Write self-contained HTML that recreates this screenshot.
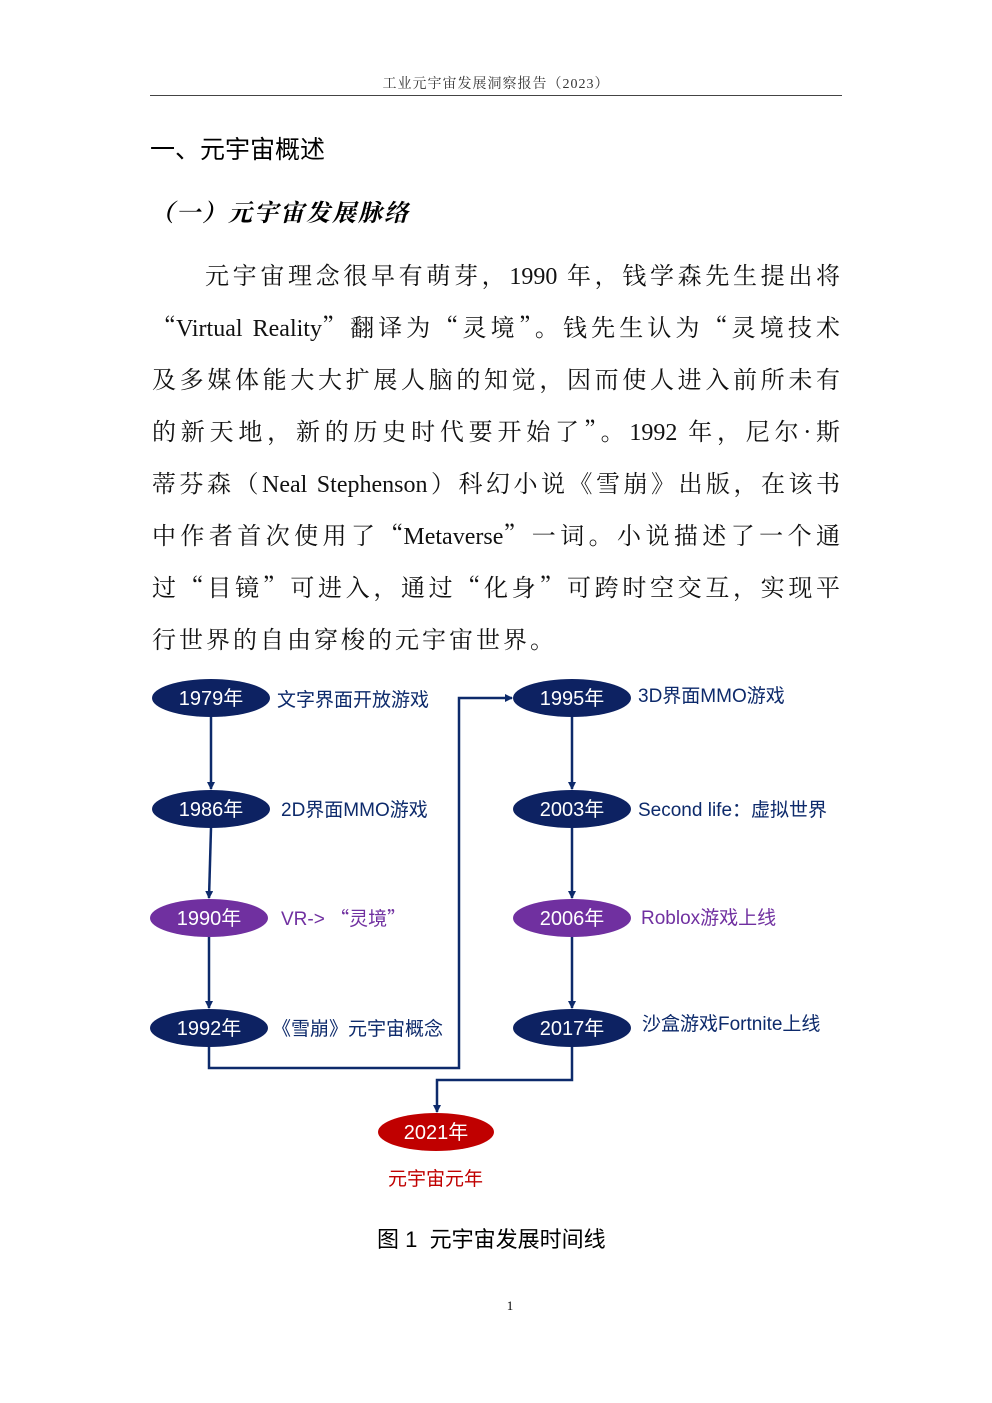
<!DOCTYPE html>
<html><head><meta charset="utf-8"><style>
body{margin:0;width:992px;height:1403px;background:#fff;position:relative;overflow:hidden;font-family:"Liberation Serif","Noto Serif CJK SC",serif;}
.a{position:absolute;white-space:nowrap;}
.l{position:absolute;left:152px;width:688px;font-size:24px;line-height:30px;text-align:justify;text-align-last:justify;color:#111;}
.q{font-family:"Noto Serif CJK SC",serif;line-height:0;}
</style></head><body>
<div class="a" style="left:0;width:992px;top:73px;text-align:center;font-size:14px;color:#333;letter-spacing:1px;">工业元宇宙发展洞察报告（2023）</div>
<div class="a" style="left:150px;top:95px;width:692px;height:1px;background:#444;"></div>
<div class="a" style="left:150px;top:130px;font-size:25px;font-family:'Noto Sans CJK SC',sans-serif;color:#000;">一、元宇宙概述</div>
<div class="a" style="left:150px;top:193px;font-size:24px;font-family:'Noto Serif CJK SC',serif;font-weight:bold;font-style:italic;color:#000;letter-spacing:2px;">（一）元宇宙发展脉络</div>
<div class="l" style="top:262px;left:205px;width:635px;">元宇宙理念很早有萌芽，1990 年，钱学森先生提出将</div>
<div class="l" style="top:314px;"><span class="q">“</span>Virtual Reality<span class="q">”</span>翻译为<span class="q">“</span>灵境<span class="q">”</span>。钱先生认为<span class="q">“</span>灵境技术</div>
<div class="l" style="top:366px;">及多媒体能大大扩展人脑的知觉，因而使人进入前所未有</div>
<div class="l" style="top:418px;">的新天地，新的历史时代要开始了<span class="q">”</span>。1992 年，尼尔<span class="q">·</span>斯</div>
<div class="l" style="top:470px;">蒂芬森（Neal Stephenson）科幻小说《雪崩》出版，在该书</div>
<div class="l" style="top:522px;">中作者首次使用了<span class="q">“</span>Metaverse<span class="q">”</span>一词。小说描述了一个通</div>
<div class="l" style="top:574px;">过<span class="q">“</span>目镜<span class="q">”</span>可进入，通过<span class="q">“</span>化身<span class="q">”</span>可跨时空交互，实现平</div>
<div class="l" style="top:626px;text-align-last:left;letter-spacing:3px;">行世界的自由穿梭的元宇宙世界。</div>
<svg class="a" style="left:0;top:0" width="992" height="1403" font-family="Liberation Sans,Noto Sans CJK SC,sans-serif">
<defs><marker id="m" markerWidth="8" markerHeight="8" refX="7" refY="4" orient="auto" markerUnits="userSpaceOnUse"><path d="M0,0L8,4L0,8z" fill="#0d2a6b"/></marker></defs>
<g stroke="#0d2a6b" stroke-width="2.5" fill="none">
<line x1="211" y1="717" x2="211" y2="789" marker-end="url(#m)"/>
<line x1="211" y1="828" x2="209" y2="898" marker-end="url(#m)"/>
<line x1="209" y1="937" x2="209" y2="1008" marker-end="url(#m)"/>
<polyline points="209,1047 209,1068 459,1068 459,698 512,698" marker-end="url(#m)"/>
<line x1="572" y1="717" x2="572" y2="789" marker-end="url(#m)"/>
<line x1="572" y1="828" x2="572" y2="898" marker-end="url(#m)"/>
<line x1="572" y1="937" x2="572" y2="1008" marker-end="url(#m)"/>
<polyline points="572,1047 572,1080 437,1080 437,1112" marker-end="url(#m)"/>
</g>
<g font-size="20" fill="#fff" text-anchor="middle">
<ellipse cx="211" cy="698" rx="59" ry="19" fill="#0d2262"/><text x="211" y="705">1979年</text>
<ellipse cx="211" cy="809" rx="59" ry="19" fill="#0d2262"/><text x="211" y="816">1986年</text>
<ellipse cx="209" cy="918" rx="59" ry="19" fill="#7030a0"/><text x="209" y="925">1990年</text>
<ellipse cx="209" cy="1028" rx="59" ry="19" fill="#0d2262"/><text x="209" y="1035">1992年</text>
<ellipse cx="572" cy="698" rx="59" ry="19" fill="#0d2262"/><text x="572" y="705">1995年</text>
<ellipse cx="572" cy="809" rx="59" ry="19" fill="#0d2262"/><text x="572" y="816">2003年</text>
<ellipse cx="572" cy="918" rx="59" ry="19" fill="#7030a0"/><text x="572" y="925">2006年</text>
<ellipse cx="572" cy="1028" rx="59" ry="19" fill="#0d2262"/><text x="572" y="1035">2017年</text>
<ellipse cx="436" cy="1132" rx="58" ry="19" fill="#c00000"/><text x="436" y="1139">2021年</text>
</g>
<g font-size="19">
<text x="277" y="706" fill="#0d2a6b">文字界面开放游戏</text>
<text x="281" y="816" fill="#0d2a6b">2D界面MMO游戏</text>
<text x="281" y="925" fill="#7030a0">VR->  <tspan font-family="Noto Sans CJK SC">“灵境”</tspan></text>
<text x="272" y="1035" fill="#0d2a6b">《雪崩》元宇宙概念</text>
<text x="638" y="702" fill="#0d2a6b">3D界面MMO游戏</text>
<text x="638" y="816" fill="#0d2a6b">Second life：虚拟世界</text>
<text x="641" y="924" fill="#7030a0">Roblox游戏上线</text>
<text x="642" y="1030" fill="#0d2a6b">沙盒游戏Fortnite上线</text>
<text x="388" y="1185" fill="#c00000">元宇宙元年</text>
</g>
</svg>
<div class="a" style="left:377px;top:1222px;font-size:22px;font-family:'Liberation Sans','Noto Sans CJK SC',sans-serif;color:#000;">图 1&nbsp; 元宇宙发展时间线</div>
<div class="a" style="left:0;width:1020px;top:1298px;text-align:center;font-size:13px;color:#000;">1</div>
</body></html>
